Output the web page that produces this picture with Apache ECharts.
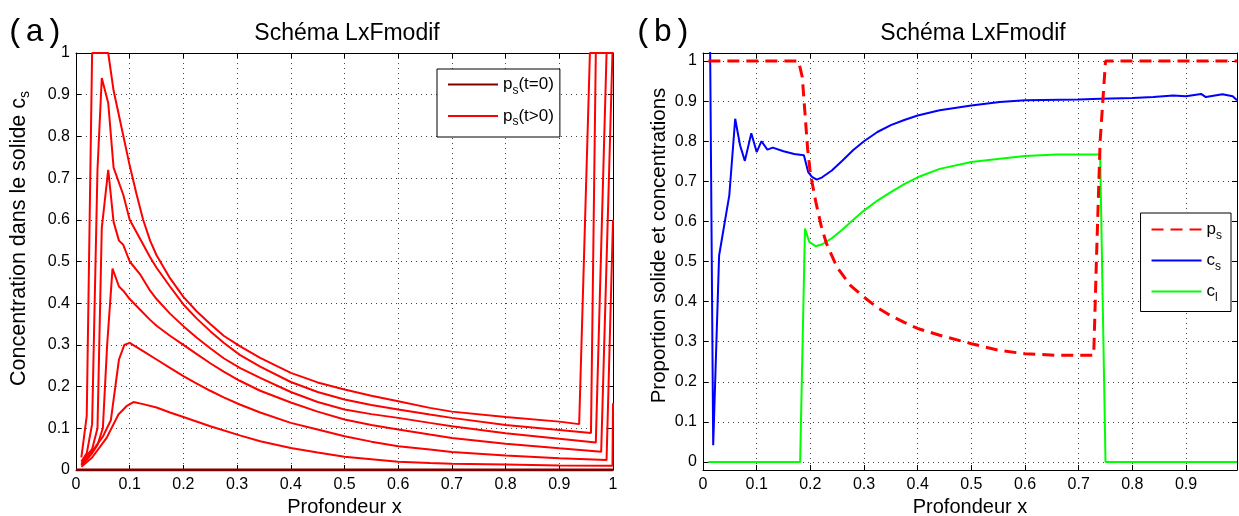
<!DOCTYPE html>
<html><head><meta charset="utf-8">
<script src="https://cdn.jsdelivr.net/npm/echarts@6/dist/echarts.min.js"></script>
<style>html,body{margin:0;padding:0;background:#fff}#c{width:1239px;height:516px}</style>
</head><body><div id="c"></div>
<script>
// ---------- tick values & labels ----------
const xTicksA = [0,0.1,0.2,0.3,0.4,0.5,0.6,0.7,0.8,0.9,1];
const xLabelsA = ['0','0.1','0.2','0.3','0.4','0.5','0.6','0.7','0.8','0.9','1'];
const xTicksB = [0,0.1,0.2,0.3,0.4,0.5,0.6,0.7,0.8,0.9];
const xLabelsB = ['0','0.1','0.2','0.3','0.4','0.5','0.6','0.7','0.8','0.9'];
const yTicks = [0,0.1,0.2,0.3,0.4,0.5,0.6,0.7,0.8,0.9,1];
const yLabels = ['0','0.1','0.2','0.3','0.4','0.5','0.6','0.7','0.8','0.9','1'];

// ---------- panel (a): p_s profiles ----------
const psInit = [[0,0],[1,0]];
const psT1 = [[0.01,0.008],[0.03,0.03],[0.057,0.077],[0.079,0.133],[0.094,0.153],[0.107,0.163],[0.125,0.158],[0.15,0.15],[0.175,0.138],[0.2,0.127],[0.25,0.105],[0.305,0.083],[0.343,0.069],[0.4,0.053],[0.45,0.042],[0.5,0.032],[0.6,0.02],[0.659,0.017],[0.7,0.015],[0.8,0.013],[0.9,0.011],[0.999,0.01],[1,0.16]];
const psT2 = [[0.01,0.012],[0.03,0.045],[0.05,0.08],[0.065,0.12],[0.08,0.265],[0.09,0.3],[0.1,0.305],[0.125,0.285],[0.15,0.265],[0.175,0.245],[0.2,0.225],[0.225,0.207],[0.25,0.19],[0.275,0.174],[0.305,0.157],[0.343,0.138],[0.4,0.113],[0.45,0.097],[0.5,0.081],[0.55,0.068],[0.6,0.057],[0.659,0.049],[0.7,0.043],[0.8,0.035],[0.9,0.028],[0.988,0.024],[1,0.6]];
const psT3 = [[0.01,0.012],[0.02,0.025],[0.03,0.04],[0.04,0.06],[0.05,0.1],[0.058,0.3],[0.068,0.483],[0.08,0.44],[0.088,0.43],[0.1,0.41],[0.119,0.385],[0.138,0.36],[0.15,0.346],[0.175,0.322],[0.2,0.3],[0.225,0.278],[0.25,0.256],[0.275,0.236],[0.305,0.214],[0.343,0.19],[0.4,0.162],[0.45,0.14],[0.5,0.121],[0.55,0.108],[0.6,0.097],[0.659,0.085],[0.7,0.077],[0.8,0.063],[0.9,0.052],[0.978,0.044],[0.999,1],[1,1]];
const psT4 = [[0.01,0.015],[0.02,0.035],[0.03,0.05],[0.04,0.1],[0.048,0.58],[0.06,0.72],[0.07,0.595],[0.08,0.55],[0.088,0.54],[0.1,0.5],[0.119,0.47],[0.138,0.43],[0.15,0.41],[0.175,0.375],[0.2,0.345],[0.225,0.317],[0.25,0.292],[0.275,0.268],[0.305,0.245],[0.343,0.221],[0.4,0.187],[0.45,0.163],[0.5,0.145],[0.55,0.134],[0.6,0.125],[0.659,0.113],[0.7,0.105],[0.8,0.088],[0.9,0.075],[0.968,0.066],[0.988,1],[1,1]];
const psT5 = [[0.01,0.02],[0.02,0.04],[0.03,0.11],[0.04,0.72],[0.048,0.94],[0.06,0.88],[0.07,0.725],[0.088,0.66],[0.1,0.6],[0.119,0.555],[0.138,0.51],[0.15,0.485],[0.175,0.44],[0.2,0.397],[0.225,0.363],[0.25,0.333],[0.275,0.305],[0.305,0.276],[0.343,0.248],[0.4,0.211],[0.45,0.187],[0.5,0.169],[0.55,0.156],[0.6,0.145],[0.659,0.133],[0.7,0.125],[0.8,0.108],[0.9,0.096],[0.959,0.089],[0.968,1],[1,1]];
const psT6 = [[0.01,0.03],[0.02,0.13],[0.03,1],[0.06,1],[0.07,0.91],[0.085,0.82],[0.1,0.73],[0.113,0.66],[0.125,0.6],[0.138,0.55],[0.15,0.515],[0.175,0.46],[0.2,0.415],[0.225,0.38],[0.25,0.35],[0.275,0.322],[0.305,0.297],[0.343,0.269],[0.4,0.233],[0.45,0.21],[0.5,0.193],[0.55,0.178],[0.6,0.165],[0.659,0.149],[0.7,0.14],[0.8,0.127],[0.9,0.116],[0.937,0.11],[0.957,1],[1,1]];

// ---------- panel (b): proportion & concentrations ----------
const ps = [[0.01,1],[0.178,1],[0.185,0.96],[0.19,0.87],[0.195,0.78],[0.2,0.72],[0.21,0.65],[0.22,0.59],[0.23,0.545],[0.25,0.485],[0.275,0.44],[0.3,0.411],[0.325,0.385],[0.348,0.366],[0.375,0.348],[0.4,0.333],[0.441,0.316],[0.5,0.295],[0.553,0.278],[0.6,0.27],[0.659,0.266],[0.728,0.266],[0.733,0.5],[0.74,0.8],[0.75,1],[0.995,1]];
const cs = [[0.01,1.6],[0.019,0.042],[0.03,0.515],[0.049,0.665],[0.06,0.856],[0.069,0.79],[0.078,0.751],[0.09,0.82],[0.1,0.773],[0.109,0.8],[0.12,0.779],[0.13,0.784],[0.15,0.775],[0.17,0.768],[0.188,0.765],[0.196,0.723],[0.203,0.711],[0.212,0.704],[0.222,0.71],[0.24,0.727],[0.26,0.752],[0.28,0.778],[0.3,0.8],[0.325,0.823],[0.35,0.84],[0.375,0.853],[0.4,0.864],[0.441,0.877],[0.5,0.889],[0.553,0.898],[0.6,0.902],[0.7,0.904],[0.74,0.906],[0.8,0.908],[0.839,0.91],[0.876,0.914],[0.9,0.912],[0.928,0.918],[0.937,0.91],[0.968,0.917],[0.987,0.912],[0.995,0.902]];
const cl = [[0.01,0],[0.181,0],[0.19,0.582],[0.198,0.549],[0.21,0.538],[0.222,0.543],[0.24,0.558],[0.26,0.58],[0.28,0.604],[0.3,0.627],[0.325,0.652],[0.35,0.673],[0.375,0.693],[0.4,0.71],[0.441,0.731],[0.5,0.748],[0.553,0.756],[0.6,0.763],[0.659,0.767],[0.74,0.767],[0.75,0],[0.995,0]];

// ---------- text ----------
const titleText = 'Schéma LxFmodif';
const xName = 'Profondeur x';
const yNameA = 'Concentration dans le solide c{s|s}';
const yNameB = 'Proportion solide et concentrations';

const FONT = 'Liberation Sans';
const chart = echarts.init(document.getElementById('c'), null, {renderer: 'canvas'});

function lookup(vals, labels) {
  return function (v) {
    for (let i = 0; i < vals.length; i++) if (Math.abs(vals[i] - v) < 1e-6) return labels[i];
    return '';
  };
}
function axis(grid, pos, min, max, vals, labels, main, name, nameGap, isY, nameSize, shift) {
  return {
    type: 'value', gridIndex: grid, position: pos, min: min, max: max,
    axisLine: {show: true, onZero: false, lineStyle: {color: '#000', width: 1}},
    axisTick: {show: true, inside: true, length: 5, customValues: vals, lineStyle: {color: '#000', width: 1}},
    axisLabel: {show: main, customValues: vals, formatter: lookup(vals, labels), fontSize: 16,
      fontFamily: FONT, color: '#000', margin: isY ? 6 : 7},
    splitLine: {show: main, lineStyle: {type: [1, 4], color: '#444', width: 1}},
    name: main ? name : '', nameLocation: 'middle', nameGap: nameGap,
    nameTextStyle: {fontSize: nameSize || 20, fontFamily: FONT, color: '#000',
      padding: [0, 0, 0, shift || 0],
      rich: {s: {fontSize: 14, fontFamily: FONT, color: '#000', padding: [12, 0, 0, 0]}}}
  };
}
const legendFmt = function (n) { return n.replace(/_(\w)/, '{s|$1}'); };
const legendCommon = {
  orient: 'vertical', itemWidth: 50, itemHeight: 14, selectedMode: false,
  borderColor: '#000', borderWidth: 1, backgroundColor: '#fff', formatter: legendFmt,
  itemStyle: {opacity: 0, color: 'rgba(0,0,0,0)', borderWidth: 0},
  textStyle: {fontSize: 17, fontFamily: FONT, color: '#000',
    rich: {s: {fontSize: 12, fontFamily: FONT, color: '#000', padding: [12, 0, 0, 0]}}}
};
function redLine(name, data) {
  return {type: 'line', name: name, data: data, xAxisIndex: 0, yAxisIndex: 0, symbol: 'none',
    lineStyle: {color: '#ff0000', width: 2}, itemStyle: {color: '#ff0000'}, z: 3};
}

chart.setOption({
  animation: false,
  backgroundColor: '#fff',
  title: [
    {text: titleText, left: 347, top: 22, textAlign: 'center', padding: 0,
      textStyle: {fontSize: 23, fontWeight: 'normal', fontFamily: FONT, color: '#000'}},
    {text: titleText, left: 973, top: 22, textAlign: 'center', padding: 0,
      textStyle: {fontSize: 23, fontWeight: 'normal', fontFamily: FONT, color: '#000'}},
    {text: '(a)', left: 6, top: 17, padding: 0,
      textStyle: {fontSize: 32, fontWeight: 'normal', fontFamily: 'Liberation Mono', color: '#000'}},
    {text: '(b)', left: 634, top: 17, padding: 0,
      textStyle: {fontSize: 32, fontWeight: 'normal', fontFamily: 'Liberation Mono', color: '#000'}}
  ],
  grid: [
    {left: 76, right: 626, top: 53, bottom: 46, outerBoundsMode: 'none', containLabel: false},
    {left: 703, right: 2, top: 53, bottom: 46, outerBoundsMode: 'none', containLabel: false}
  ],
  xAxis: [
    axis(0, 'bottom', 0, 1, xTicksA, xLabelsA, true, xName, 26, false),
    axis(1, 'bottom', 0, 0.995, xTicksB, xLabelsB, true, xName, 26, false),
    axis(0, 'top', 0, 1, xTicksA, xLabelsA, false, '', 0, false),
    axis(1, 'top', 0, 0.995, xTicksB, xLabelsB, false, '', 0, false)
  ],
  yAxis: [
    axis(0, 'left', 0, 1, yTicks, yLabels, true, yNameA, 44, true, 21.5, 46),
    axis(1, 'left', -0.02, 1.02, yTicks, yLabels, true, yNameB, 33, true, 20.5, 32),
    axis(0, 'right', 0, 1, yTicks, yLabels, false, '', 0, true),
    axis(1, 'right', -0.02, 1.02, yTicks, yLabels, false, '', 0, true)
  ],
  legend: [
    Object.assign({}, legendCommon, {data: ['p_s(t=0)', 'p_s(t>0)'], left: 437, top: 69,
      padding: [7, 6, 9, 10], itemGap: 11}),
    Object.assign({}, legendCommon, {data: ['p_s', 'c_s', 'c_l'], right: 8, top: 213,
      padding: [8, 9, 8, 10], itemGap: 10.5})
  ],
  series: [
    redLine('p_s(t>0)', psT1), redLine('p_s(t>0)', psT2), redLine('p_s(t>0)', psT3),
    redLine('p_s(t>0)', psT4), redLine('p_s(t>0)', psT5), redLine('p_s(t>0)', psT6),
    {type: 'line', name: 'p_s(t=0)', data: psInit, xAxisIndex: 0, yAxisIndex: 0, symbol: 'none',
      lineStyle: {color: '#800000', width: 3}, itemStyle: {color: '#800000'}, z: 4},
    {type: 'line', name: 'p_s', data: ps, xAxisIndex: 1, yAxisIndex: 1, symbol: 'none',
      lineStyle: {color: '#ff0000', width: 3, type: [12, 7]}, itemStyle: {color: '#ff0000'}, z: 4},
    {type: 'line', name: 'c_s', data: cs, xAxisIndex: 1, yAxisIndex: 1, symbol: 'none',
      lineStyle: {color: '#0000ff', width: 2}, itemStyle: {color: '#0000ff'}, z: 3},
    {type: 'line', name: 'c_l', data: cl, xAxisIndex: 1, yAxisIndex: 1, symbol: 'none',
      lineStyle: {color: '#00ff00', width: 2}, itemStyle: {color: '#00ff00'}, z: 3}
  ]
});
</script>
</body></html>
